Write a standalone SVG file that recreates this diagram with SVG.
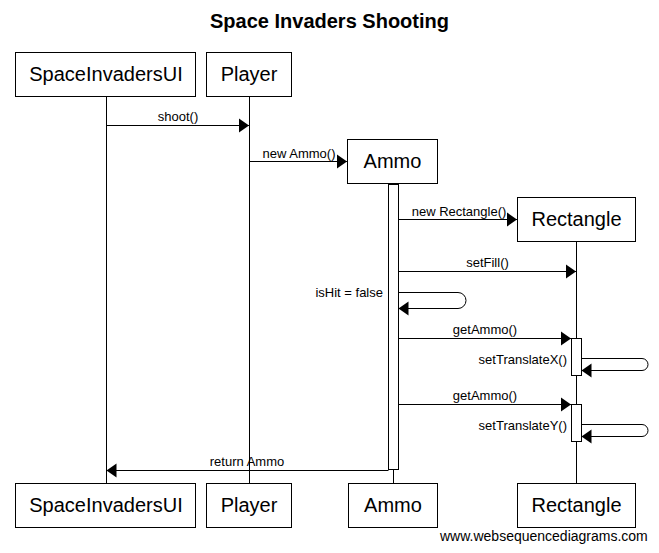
<svg xmlns="http://www.w3.org/2000/svg" width="659" height="553" viewBox="0 0 659 553">
<style>
.box{fill:#fff;stroke:#000;stroke-width:1}
.life{stroke:#000;stroke-width:1;fill:none}
.act{fill:#fff;stroke:#000;stroke-width:1}
.msg{stroke:#000;stroke-width:1;fill:none;marker-end:url(#ah)}
.nt{font-family:"Liberation Sans",Arial,sans-serif;font-size:20px;text-anchor:middle;fill:#000}
.lbl{font-family:"Liberation Sans",Arial,sans-serif;font-size:13px;text-anchor:middle;fill:#000}
.lr{text-anchor:end}
.title{font-family:"Liberation Sans",Arial,sans-serif;font-size:20px;font-weight:bold;text-anchor:middle;fill:#000}
.wm{font-family:"Liberation Sans",Arial,sans-serif;font-size:14px;fill:#000}
</style>
<defs>
<marker id="ah" markerUnits="userSpaceOnUse" markerWidth="10" markerHeight="14" refX="10" refY="7" orient="auto" overflow="visible">
<path d="M0,0 L10,7 L0,14 z" fill="#000"/>
</marker>
</defs>
<rect width="659" height="553" fill="#fff"/>
<text class="title" x="329.5" y="28">Space Invaders Shooting</text>

<g id="SpaceInvadersUI">
<line class="life" x1="106.5" y1="96" x2="106.5" y2="483"/>
<rect class="box" x="15.5" y="52.5" width="180" height="44"/>
<text class="nt" x="106" y="81">SpaceInvadersUI</text>
<rect class="box" x="15.5" y="483.5" width="180" height="44"/>
<text class="nt" x="106" y="512">SpaceInvadersUI</text>
</g>

<g id="Player">
<line class="life" x1="249.5" y1="96" x2="249.5" y2="483"/>
<rect class="box" x="206.5" y="52.5" width="85" height="44"/>
<text class="nt" x="249" y="81">Player</text>
<rect class="box" x="206.5" y="483.5" width="85" height="44"/>
<text class="nt" x="249" y="512">Player</text>
</g>

<g id="Ammo">
<line class="life" x1="393.5" y1="184" x2="393.5" y2="483"/>
<rect class="box" x="347.5" y="139.5" width="90" height="44"/>
<text class="nt" x="392.5" y="168">Ammo</text>
<rect class="act" x="388.5" y="184.5" width="10" height="285"/>
<rect class="box" x="348.5" y="483.5" width="89" height="44"/>
<text class="nt" x="393" y="512">Ammo</text>
</g>

<g id="Rectangle">
<line class="life" x1="576.5" y1="242" x2="576.5" y2="483"/>
<rect class="box" x="517.5" y="197.5" width="118" height="44"/>
<text class="nt" x="576.5" y="226">Rectangle</text>
<rect class="act" x="571.5" y="338.5" width="10" height="37"/>
<rect class="act" x="571.5" y="404.5" width="10" height="37"/>
<rect class="box" x="517.5" y="483.5" width="118" height="44"/>
<text class="nt" x="576.5" y="512">Rectangle</text>
</g>

<g id="connectors">
<path class="msg" d="M106.5,125.5 H249"/>
<text class="lbl" x="178" y="121">shoot()</text>
<path class="msg" d="M249.5,161.5 H347"/>
<text class="lbl" x="299" y="158">new Ammo()</text>
<path class="msg" d="M398.5,219.5 H517"/>
<text class="lbl" x="459" y="216">new Rectangle()</text>
<path class="msg" d="M398.5,271.5 H576"/>
<text class="lbl" x="487.5" y="267">setFill()</text>
<path class="msg" d="M398.5,292.5 H458 a8,8 0 0 1 0,16 H398.5"/>
<text class="lbl lr" x="383" y="297">isHit = false</text>
<path class="msg" d="M398.5,338.5 H571"/>
<text class="lbl" x="485" y="334">getAmmo()</text>
<path class="msg" d="M581.5,358.5 H642 a6,6 0 0 1 0,12 H581.5"/>
<text class="lbl lr" x="567" y="364">setTranslateX()</text>
<path class="msg" d="M398.5,404.5 H571"/>
<text class="lbl" x="485" y="400">getAmmo()</text>
<path class="msg" d="M581.5,424.5 H642 a6,6 0 0 1 0,12 H581.5"/>
<text class="lbl lr" x="567" y="430">setTranslateY()</text>
<path class="msg" d="M388.5,470.5 H106.5"/>
<text class="lbl" x="247" y="466">return Ammo</text>
</g>

<text class="wm" x="440" y="541">www.websequencediagrams.com</text>
</svg>
